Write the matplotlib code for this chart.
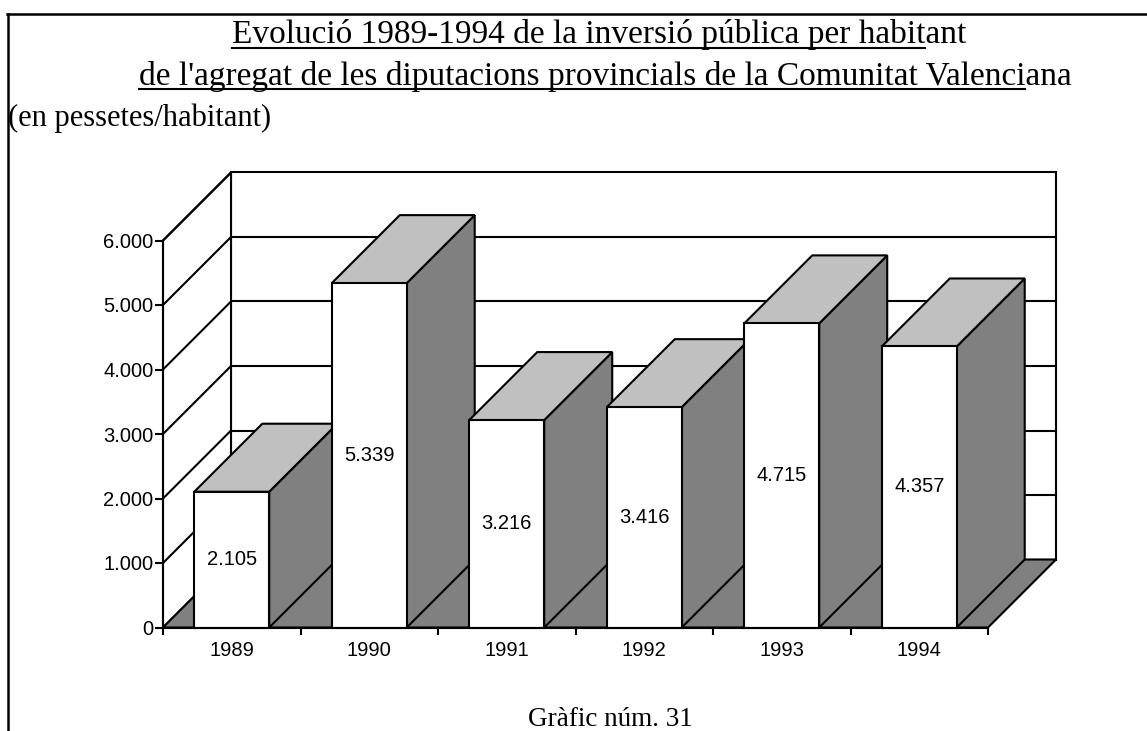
import matplotlib.pyplot as plt
from matplotlib.patches import Polygon
from matplotlib.lines import Line2D

# dades
years = ['1989', '1990', '1991', '1992', '1993', '1994']
values = [2105, 5339, 3216, 3416, 4715, 4357]
value_labels = ['2.105', '5.339', '3.216', '3.416', '4.715', '4.357']
y_ticks = [0, 1000, 2000, 3000, 4000, 5000, 6000]
y_tick_labels = ['0', '1.000', '2.000', '3.000', '4.000', '5.000', '6.000']

title_lines = ["Evolució 1989-1994 de la inversió pública per habitant",
               "de l'agregat de les diputacions provincials de la Comunitat Valenciana"]
# part of each line that carries the underline
underlined = ["Evolució 1989-1994 de la inversió pública per habit",
              "de l'agregat de les diputacions provincials de la Comunitat Valenci"]
subtitle = '(en pessetes/habitant)'
caption = 'Gràfic núm. 31'

SERIF = 'Liberation Serif'
SANS = 'Liberation Sans'
FRONT, TOP, SIDE = 'white', '#c0c0c0', '#808080'
LW = 1.5
FS = 14.5

W, H = 1147, 731
fig = plt.figure(figsize=(W / 100, H / 100), dpi=100)

# front plane of the box (pixels)
x0, x1 = 163, 988
y0, y1 = H - 627.5, H - 240.5
ax = fig.add_axes([x0 / W, y0 / H, (x1 - x0) / W, (y1 - y0) / H])
ax.set_xlim(0, len(years))
ax.set_ylim(0, y_ticks[-1])
ax.patch.set_visible(False)
for s in ['top', 'right']:
    ax.spines[s].set_visible(False)
for s in ['left', 'bottom']:
    ax.spines[s].set_linewidth(LW)

# depth of the box, 45 degrees, converted to data units
depth = 68
dx = depth / ((x1 - x0) / len(years))
dy = depth / ((y1 - y0) / y_ticks[-1])
n = len(years)
ymax = y_ticks[-1]


def face(pts, color):
    ax.add_patch(Polygon(pts, closed=True, facecolor=color, edgecolor='black',
                         lw=LW, joinstyle='miter', clip_on=False, zorder=1))


def line(xs, ys):
    ax.add_line(Line2D(xs, ys, color='black', lw=LW, clip_on=False, zorder=1))


# back wall + grid
face([(dx, dy), (n + dx, dy), (n + dx, ymax + dy), (dx, ymax + dy)], 'white')
for t in y_ticks[1:-1]:
    line([dx, n + dx], [t + dy, t + dy])
# left wall + grid
face([(0, 0), (dx, dy), (dx, ymax + dy), (0, ymax)], 'white')
for t in y_ticks[1:]:
    line([0, dx], [t, t + dy])
# floor
face([(0, 0), (n, 0), (n + dx, dy), (dx, dy)], SIDE)

# bars, left to right so each one hides the side of the previous one
bw = 0.545
for i, (v, lab) in enumerate(zip(values, value_labels)):
    xl = i + 0.5 - bw / 2
    xr = xl + bw
    face([(xr, 0), (xr + dx, dy), (xr + dx, v + dy), (xr, v)], SIDE)
    face([(xl, v), (xr, v), (xr + dx, v + dy), (xl + dx, v + dy)], TOP)
    face([(xl, 0), (xr, 0), (xr, v), (xl, v)], FRONT)
    ax.text(i + 0.5, v / 2, lab, ha='center', va='center', fontsize=FS,
            family=SANS, zorder=3)

# axes ticks
ax.set_yticks(y_ticks, y_tick_labels)
ax.tick_params(axis='y', length=5.5, width=LW, pad=1.5, labelsize=FS)
ax.set_xticks(range(n + 1), [''] * (n + 1))
ax.set_xticks([i + 0.5 for i in range(n)], years, minor=True)
ax.tick_params(axis='x', which='major', length=5, width=LW)
ax.tick_params(axis='x', which='minor', length=0, pad=10, labelsize=FS)
for lab in ax.get_xticklabels(minor=True) + ax.get_yticklabels():
    lab.set_family(SANS)

# texts
r = fig.canvas.get_renderer()
for txt, part, xc, yb, yu in zip(title_lines, underlined, [599, 605], [43, 85], [48, 89]):
    t = fig.text(xc / W, (H - yb) / H, txt, ha='center', va='baseline',
                 fontsize=24, family=SERIF)
    bb = t.get_window_extent(r)
    tmp = fig.text(0, 0, part, fontsize=24, family=SERIF)
    w = tmp.get_window_extent(r).width
    tmp.remove()
    fig.add_artist(Line2D([bb.x0 / W, (bb.x0 + w) / W], [(H - yu) / H] * 2,
                          color='black', lw=1.5))

fig.text(8 / W, (H - 126) / H, subtitle, ha='left', va='baseline',
         fontsize=22, family=SERIF)
fig.text(610 / W, (H - 726) / H, caption, ha='center', va='baseline',
         fontsize=19.5, family=SERIF)

# outer frame (top and left)
fig.add_artist(Line2D([7 / W, 1], [(H - 14) / H] * 2, color='black', lw=1.8))
fig.add_artist(Line2D([8 / W, 8 / W], [0, (H - 14) / H], color='black', lw=1.8))

fig.savefig('out.png', dpi=100)
